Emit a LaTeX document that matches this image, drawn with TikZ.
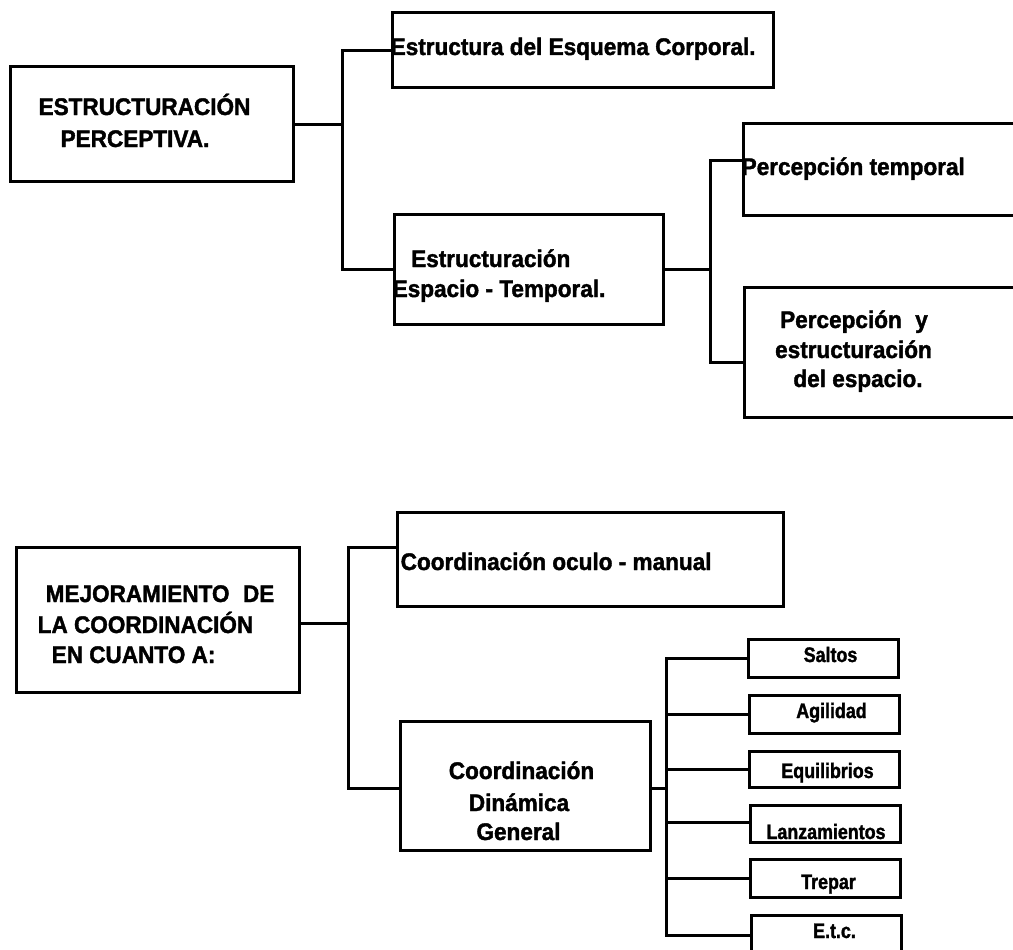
\documentclass[tikz,border=0pt]{standalone}
\usepackage{fontspec}
\setmainfont{Liberation Sans}[FakeStretch=0.94,BoldFeatures={FakeBold=1.6}]
\newfontfamily\smallfam{Liberation Sans}[FakeStretch=0.85,BoldFeatures={FakeBold=1.5}]
\newcommand\bigtxt{\bfseries\fontsize{24}{30}\selectfont}
\newcommand\smalltxt{\smallfam\bfseries\fontsize{21}{21}\selectfont}
\begin{document}
\begin{tikzpicture}[x=1pt,y=-1pt,
  box/.style={draw, line width=3pt, inner sep=0, rectangle},
  wire/.style={line width=3pt},
  bigt/.style={inner sep=0, font=\bigtxt},
  smallt/.style={inner sep=0, font=\smalltxt, anchor=base},
  sbox/.style={box, minimum width=150pt, minimum height=38pt}]
\useasboundingbox (0,0) rectangle (1013,950);
\fill[white] (0,0) rectangle (1013,950);
\clip (0,0) rectangle (1013,950);

% ---------- top tree ----------
\node[box, minimum width=283pt, minimum height=114pt] (t1) at (151.5,124) {};
\node[box, minimum width=381pt, minimum height=75pt] (a1) at (582.5,50.5) {};
\node[box, minimum width=269pt, minimum height=110pt] (a2) at (528.5,269) {};
\node[box, minimum width=300pt, minimum height=92pt] (p1) at (893,169) {};
\node[box, minimum width=300pt, minimum height=130pt] (p2) at (894,352) {};

\node[bigt, anchor=base] (t1a) at (144.5,115) {ESTRUCTURACIÓN};
\node[bigt, anchor=base] (t1b) at (135,147) {PERCEPTIVA.};
\node[bigt, anchor=base west] (a1t) at (390.5,55) {Estructura del Esquema Corporal.};
\node[bigt, anchor=base west] (a2a) at (411,267) {Estructuración};
\node[bigt, anchor=base west] (a2b) at (392.5,297) {Espacio - Temporal.};
\node[bigt, anchor=base west] (p1t) at (741.5,175) {Percepción temporal};
\node[bigt, anchor=base] (p2a) at (854,328) {Percepción\hspace{0.3em} y};
\node[bigt, anchor=base] (p2b) at (853.5,358) {estructuración};
\node[bigt, anchor=base] (p2c) at (858,387) {del espacio.};

\coordinate (j1) at (342,124);
\coordinate (j2) at (710,269);
\draw[wire] (t1.east) -- (j1);
\draw[wire] (a1.west) -| (j1) |- (a2.west);
\draw[wire] (a2.east) -- (j2);
\draw[wire] ([yshift=9pt]p1.west) -| (j2) |- ([yshift=-10pt]p2.west);

% ---------- bottom tree ----------
\node[box, minimum width=283pt, minimum height=145pt] (t2) at (157.5,619.5) {};
\node[box, minimum width=386pt, minimum height=94pt] (c1) at (590,559) {};
\node[box, minimum width=250pt, minimum height=129pt] (c2) at (525,785.5) {};

\node[bigt, anchor=base west] (t2a) at (45.5,602) {MEJORAMIENTO\hspace{0.3em} DE};
\node[bigt, anchor=base west] (t2b) at (37.5,633) {LA COORDINACIÓN};
\node[bigt, anchor=base west] (t2c) at (51.5,663) {EN CUANTO A:};
\node[bigt, anchor=base west] (c1t) at (400.5,570) {Coordinación oculo - manual};
\node[bigt, anchor=base] (c2a) at (521.5,779) {Coordinación};
\node[bigt, anchor=base] (c2b) at (519,811) {Dinámica};
\node[bigt, anchor=base] (c2c) at (518.5,840) {General};

\node[sbox] (s1) at (823.5,658) {};
\node[sbox] (s2) at (824,714) {};
\node[sbox, minimum height=36pt] (s3) at (824.5,769) {};
\node[sbox, minimum height=37pt] (s4) at (825.5,823.5) {};
\node[sbox] (s5) at (825.5,878) {};
\node[sbox] (s6) at (826,934) {};

\node[smallt] (s1t) at (830.5,662) {Saltos};
\node[smallt] (s2t) at (831.5,718) {Agilidad};
\node[smallt] (s3t) at (827.5,778) {Equilibrios};
\node[smallt] (s4t) at (826,839) {Lanzamientos};
\node[smallt] (s5t) at (828.5,889) {Trepar};
\node[smallt] (s6t) at (834.5,938) {E.t.c.};

\coordinate (j3) at (348,623);
\coordinate (j4) at (666,788);
\draw[wire] ([yshift=-3.5pt]t2.east) -- (j3);
\draw[wire] ([yshift=12pt]c1.west) -| (j3) |- ([yshift=-2.5pt]c2.west);
\draw[wire] ([yshift=-2.5pt]c2.east) -- (j4);
\draw[wire] (s1.west) -| (j4) |- ([yshift=-1.5pt]s6.west);
\draw[wire] (s2.west) -- (s2.west -| j4);
\draw[wire] (s3.west) -- (s3.west -| j4);
\draw[wire] ([yshift=1.5pt]s4.west) -- ([yshift=1.5pt]s4.west -| j4);
\draw[wire] (s5.west) -- (s5.west -| j4);
\end{tikzpicture}
\end{document}
